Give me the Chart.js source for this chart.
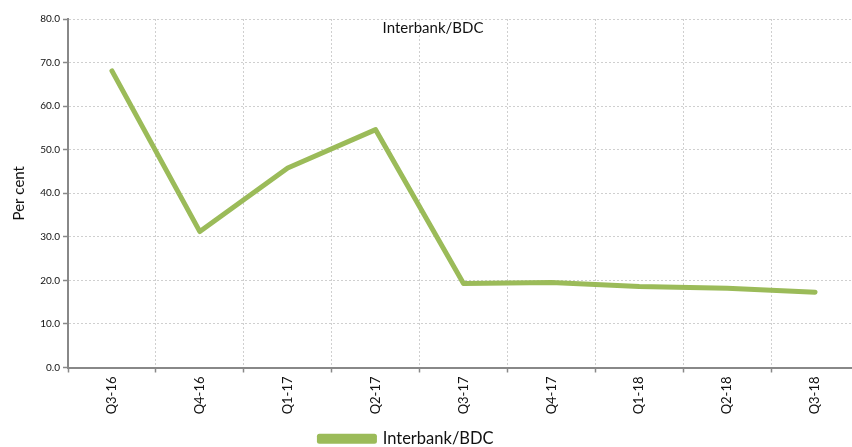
<!DOCTYPE html>
<html>
<head>
<meta charset="utf-8">
<script src="https://cdn.jsdelivr.net/npm/chart.js@4.4.1/dist/chart.umd.min.js"></script>
<style>
  html, body { margin: 0; padding: 0; background: #fff; overflow: hidden; }
  #wrap { width: 862px; height: 447px; }
</style>
</head>
<body>
<div id="wrap"><canvas id="chart" width="862" height="447"></canvas></div>
<script>
// data
const quarters = ["Q3-16", "Q4-16", "Q1-17", "Q2-17", "Q3-17", "Q4-17", "Q1-18", "Q2-18", "Q3-18"];
const interbankBdc = [68.1, 31.2, 45.8, 54.6, 19.3, 19.5, 18.6, 18.2, 17.3];
const yTicks = [0, 10, 20, 30, 40, 50, 60, 70, 80];

const FONT = "Lato, 'Open Sans', sans-serif";
const green = "#9BBB59";

// titre dans la zone du graphique
const innerTitle = {
  id: "innerTitle",
  afterLayout(chart) {
    // legende un peu a gauche, comme l'original
    if (chart.legend) {
      chart.legend.left -= 28;
      chart.legend.right -= 28;
    }
  },
  afterDraw(chart) {
    const c = chart.ctx;
    c.save();
    c.font = "15px " + FONT;
    c.fillStyle = "#111";
    c.textAlign = "center";
    c.textBaseline = "middle";
    c.fillText("Interbank/BDC", 433, 28);
    c.restore();
  }
};

const ctx = document.getElementById("chart").getContext("2d");
new Chart(ctx, {
  type: "line",
  data: {
    labels: quarters,
    datasets: [{
      label: "Interbank/BDC",
      data: interbankBdc,
      borderColor: green,
      backgroundColor: green,
      borderWidth: 5,
      pointRadius: 0,
      borderCapStyle: "round",
      borderJoinStyle: "round",
      tension: 0
    }]
  },
  options: {
    responsive: false,
    animation: false,
    layout: { padding: { top: 19, right: 3, left: 10, bottom: -10 } },
    plugins: {
      legend: {
        position: "bottom",
        labels: {
          font: { family: FONT, size: 16.5 },
          color: "#111",
          boxWidth: 55,
          boxHeight: 5,
          padding: 0
        }
      },
      tooltip: { enabled: false }
    },
    scales: {
      x: {
        offset: true,
        grid: {
          offset: true,
          color: "#cfcfcf",
          tickColor: "#888",
          tickLength: 5,
          tickWidth: 1.5
        },
        border: { color: "#888", width: 2, dash: [2, 2] },
        ticks: {
          minRotation: 90,
          maxRotation: 90,
          font: { family: FONT, size: 13 },
          color: "#111",
          padding: 4
        },
        afterFit(s) { s.height = 63; }
      },
      y: {
        min: 0,
        max: 80,
        afterBuildTicks(s) { s.ticks = yTicks.map(v => ({ value: v })); },
        grid: {
          color: "#cfcfcf",
          tickColor: "#888",
          tickLength: 5,
          tickWidth: 1.5
        },
        border: { color: "#888", width: 2, dash: [2, 2] },
        ticks: {
          font: { family: FONT, size: 10 },
          color: "#111",
          padding: 3,
          callback: v => v.toFixed(1)
        },
        title: {
          display: true,
          text: "Per cent",
          font: { family: FONT, size: 15 },
          color: "#111",
          padding: { top: 0, bottom: 4 }
        },
        afterFit(s) { s.width = 58; }
      }
    }
  },
  plugins: [innerTitle]
});
</script>
</body>
</html>
